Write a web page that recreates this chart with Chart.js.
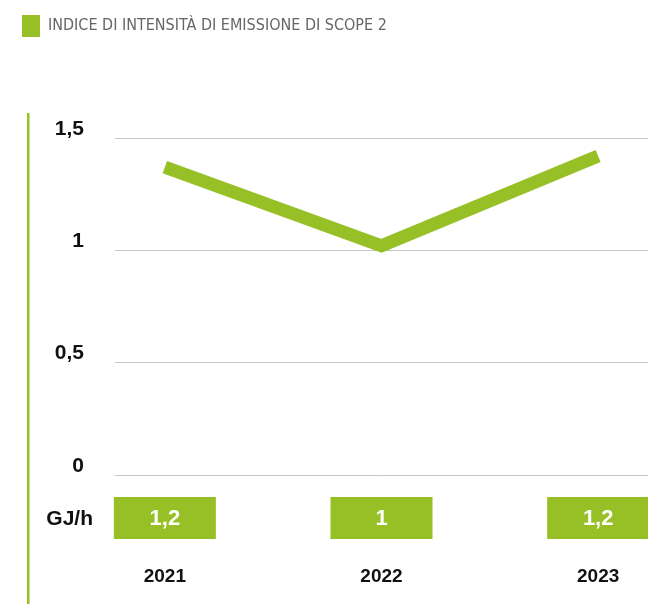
<!DOCTYPE html>
<html>
<head>
<meta charset="utf-8">
<script src="https://cdn.jsdelivr.net/npm/chart.js@4"></script>
<style>
  html, body { margin: 0; padding: 0; background: #fff; }
  #wrap { width: 648px; height: 604px; }
</style>
</head>
<body>
<div id="wrap"><canvas id="myChart"></canvas></div>
<script>
var seriesName = "INDICE DI INTENSITÀ DI EMISSIONE DI SCOPE 2";
var years = [2021, 2022, 2023];
var values = [1.37, 1.02, 1.42];
var boxLabels = ["1,2", "1", "1,2"];
var yTicks = [0, 0.5, 1, 1.5];
var unitLabel = "GJ/h";

var green = "#97c026";
var fontFam = "'Liberation Sans', Arial, sans-serif";

// left green rule, unit label and value boxes under the axis
var extras = {
  id: 'extras',
  afterInit: function(chart) {
    var fit = chart.legend.fit;
    chart.legend.fit = function() {
      fit.call(this);
      this.height += 91;
    };
  },
  afterDraw: function(chart) {
    var ctx = chart.ctx;
    var area = chart.chartArea;
    var x = chart.scales.x;
    ctx.save();
    ctx.fillStyle = green;
    ctx.fillRect(27, 113, 2.5, 604 - 113);

    var top = area.bottom + 22;
    var h = 42;
    ctx.textAlign = 'center';
    ctx.textBaseline = 'middle';
    for (var i = 0; i < years.length; i++) {
      var cx = x.getPixelForValue(years[i]);
      ctx.fillStyle = green;
      ctx.fillRect(cx - 51, top, 102, h);
      ctx.fillStyle = '#fff';
      ctx.font = 'bold 22px ' + fontFam;
      ctx.fillText(boxLabels[i], cx, top + h / 2 + 1);
    }
    ctx.fillStyle = '#111';
    ctx.font = 'bold 21px ' + fontFam;
    ctx.textAlign = 'right';
    ctx.fillText(unitLabel, 93, top + h / 2 + 1);
    ctx.restore();
  }
};

var ctx = document.getElementById('myChart').getContext('2d');
var myChart = new Chart(ctx, {
  type: 'line',
  data: {
    datasets: [{
      label: seriesName,
      data: years.map(function(y, i) { return { x: y, y: values[i] }; }),
      borderColor: green,
      backgroundColor: green,
      borderWidth: 13,
      borderCapStyle: 'butt',
      borderJoinStyle: 'miter',
      pointRadius: 0,
      tension: 0,
      fill: false
    }]
  },
  options: {
    responsive: true,
    maintainAspectRatio: false,
    animation: false,
    layout: { padding: { left: 12, right: 0, top: 5, bottom: 0 } },
    plugins: {
      legend: {
        position: 'top',
        align: 'start',
        labels: {
          boxWidth: 18,
          boxHeight: 22,
          padding: 10,
          color: '#666',
          font: { family: "'Liberation Sans Narrow', 'DejaVu Sans Condensed', sans-serif", size: 16 },
          generateLabels: function(chart) {
            var items = Chart.defaults.plugins.legend.labels.generateLabels(chart);
            items.forEach(function(it) { it.lineWidth = 0; it.strokeStyle = 'transparent'; });
            return items;
          }
        }
      },
      tooltip: { enabled: false }
    },
    scales: {
      x: {
        type: 'linear',
        min: 2020.77,
        max: 2023.23,
        afterBuildTicks: function(s) {
          s.ticks = years.map(function(v) { return { value: v }; });
        },
        afterFit: function(s) {
          s.height = 129;
          s.paddingLeft = 0;
          s.paddingRight = 0;
        },
        grid: { display: false, drawTicks: false },
        border: { display: false },
        ticks: {
          padding: 90,
          color: '#111',
          font: { family: fontFam, size: 19, weight: 'bold' },
          callback: function(v) { return String(v); }
        }
      },
      y: {
        min: 0,
        max: 1.5,
        afterBuildTicks: function(s) {
          s.ticks = yTicks.map(function(v) { return { value: v }; });
        },
        afterFit: function(s) { s.width = 103; },
        grid: { color: '#c6c6c6', lineWidth: 1, drawTicks: false },
        border: { display: false },
        ticks: {
          padding: 31,
          labelOffset: -9,
          color: '#111',
          font: { family: fontFam, size: 21, weight: 'bold' },
          callback: function(v) { return String(v).replace('.', ','); }
        }
      }
    }
  },
  plugins: [extras]
});
</script>
</body>
</html>
